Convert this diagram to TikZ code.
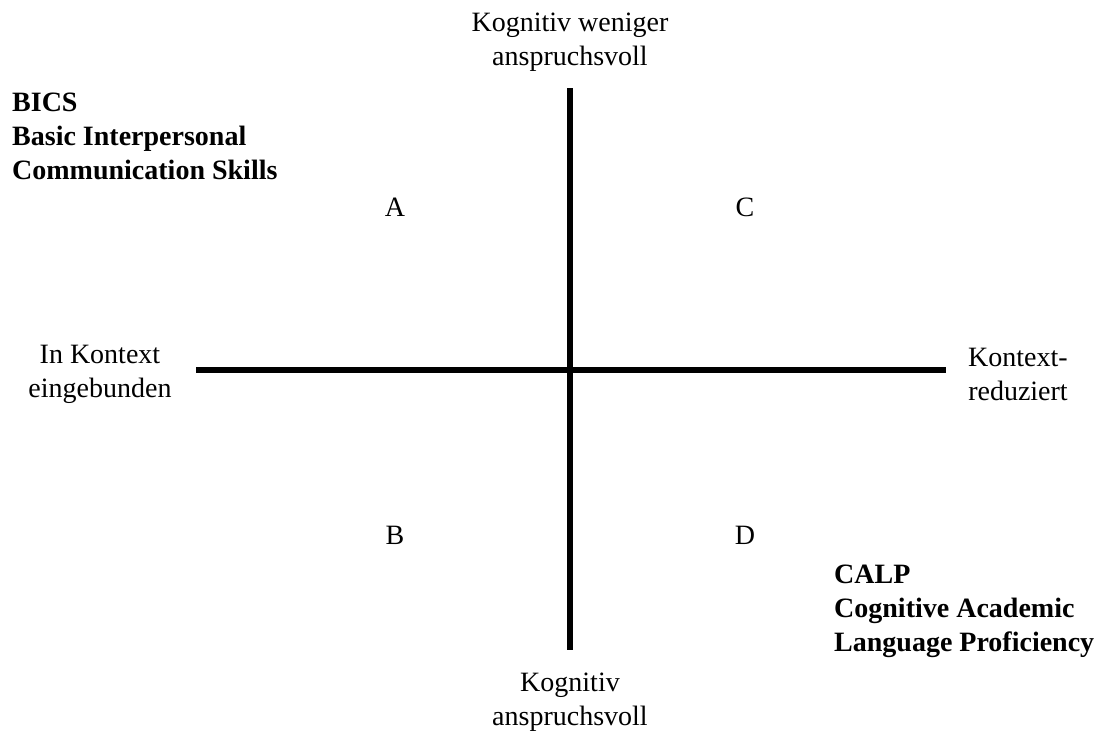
\documentclass[tikz,border=0pt]{standalone}
\usepackage{fontspec}
\setmainfont{Liberation Serif}
\begin{document}
\begin{tikzpicture}[x=1pt,y=-1pt,
  lbl/.style={inner sep=0pt,align=center,font=\fontsize{28}{34}\selectfont},
  blbl/.style={inner sep=0pt,align=left,anchor=west,font=\fontsize{28}{34}\selectfont\bfseries},
  axis/.style={line width=6pt}]
\useasboundingbox (0,0) rectangle (1097,731);
\coordinate (vtop) at (570,88);
\coordinate (vbot) at (570,650);
\coordinate (hl) at (196,370);
\coordinate (hr) at (946,370);
\draw[axis] (vtop) -- (vbot);
\draw[axis] (hl) -- (hr);
\node[lbl] (top) at (570,42) {Kognitiv weniger\\anspruchsvoll};
\node[lbl] (bottom) at (570,702) {Kognitiv\\anspruchsvoll};
\node[lbl] (left) at (100,374) {In Kontext\\eingebunden};
\node[lbl] (right) at (1018,374) {Kontext-\\reduziert};
\node[lbl] (A) at (395,207) {A};
\node[lbl] (C) at (745,207) {C};
\node[lbl] (B) at (395,535) {B};
\node[lbl] (D) at (745,535) {D};
\node[blbl] (bics) at (12,136) {BICS\\Basic Interpersonal\\Communication Skills};
\node[blbl] (calp) at (834,611) {CALP\\Cognitive Academic\\Language Proficiency};
\end{tikzpicture}
\end{document}
